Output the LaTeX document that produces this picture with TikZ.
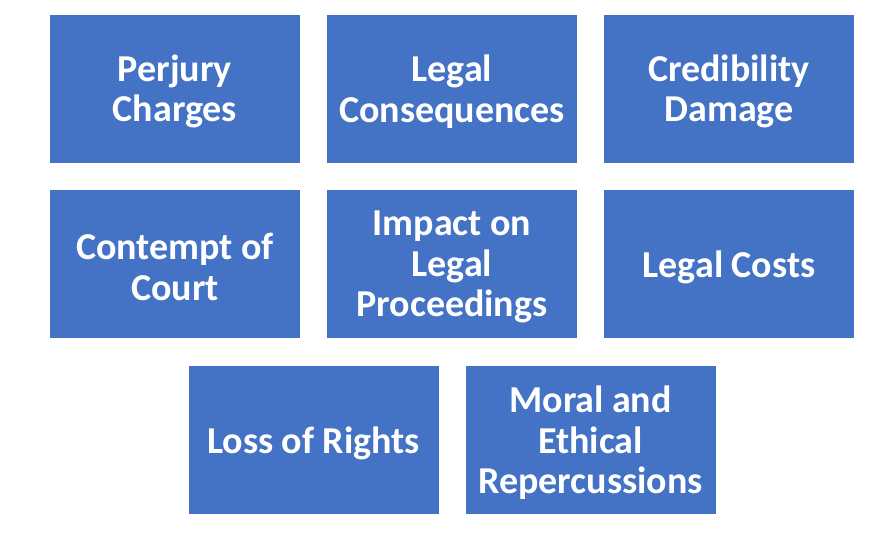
\documentclass[tikz,border=0pt]{standalone}
\usepackage{fontspec}
\setmainfont{Carlito}
\definecolor{boxblue}{HTML}{4472C4}
\newcommand\cardfont{\fontsize{38}{40.5}\selectfont\bfseries}
\newcommand\wsp{\hspace{0.22em}}
\begin{document}
\begin{tikzpicture}[x=1pt,y=-1pt,
  card/.style={fill=boxblue, draw=none, minimum width=250pt, minimum height=148pt, inner sep=0pt},
  cardtext/.style={inner sep=0pt, align=center, text=white, text width=240pt, font=\cardfont}]
\useasboundingbox (0,0) rectangle (895,533);
\node[card] (a) at (175,88.5) {};
\node[card] (b) at (452,88.5) {};
\node[card] (c) at (729,88.5) {};
\node[card] (d) at (175,264) {};
\node[card] (e) at (452,264) {};
\node[card] (f) at (729,264) {};
\node[card] (g) at (313.5,440) {};
\node[card] (h) at (590.5,440) {};
\node[cardtext] (at) at ([yshift=-3pt]a.center) {Perjury\\Charges};
\node[cardtext] (bt) at ([yshift=-3pt]b.center) {Legal\\Consequences};
\node[cardtext] (ct) at ([yshift=-3pt]c.center) {Credibility\\Damage};
\node[cardtext] (dt) at ([yshift=-3pt]d.center) {Contempt\wsp of\\Court};
\node[cardtext] (et) at ([yshift=-3pt]e.center) {Impact\wsp on\\Legal\\Proceedings};
\node[cardtext] (ft) at ([yshift=-3pt]f.center) {Legal\wsp Costs};
\node[cardtext] (gt) at ([yshift=-3pt]g.center) {Loss\wsp of\wsp Rights};
\node[cardtext] (ht) at ([yshift=-3pt]h.center) {Moral\wsp and\\Ethical\\Repercussions};
\end{tikzpicture}
\end{document}
